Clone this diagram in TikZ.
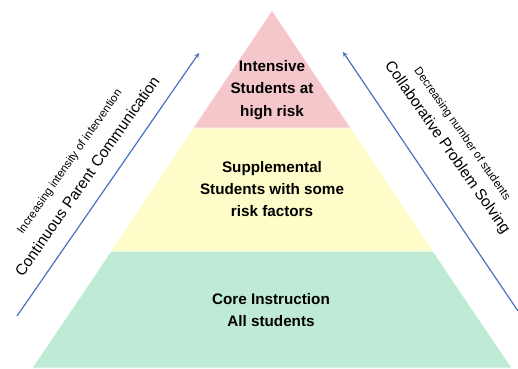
\documentclass[tikz,border=0pt]{standalone}
\usepackage{fontspec}
\setmainfont{Liberation Sans}
\tikzset{>=stealth}
\definecolor{tiertop}{RGB}{245,199,203}
\definecolor{tiermid}{RGB}{254,252,200}
\definecolor{tierlow}{RGB}{191,234,213}
\definecolor{arrowblue}{RGB}{70,114,196}
\tikzset{
    tier/.style={draw=white, line width=0.8pt},
    tierlabel/.style={align=center, font=\bfseries\fontsize{15.3}{22.5}\selectfont},
    sidebig/.style={inner sep=1pt, font=\fontsize{15.5}{18}\selectfont},
    sidesmall/.style={inner sep=1pt, font=\fontsize{11.5}{14}\selectfont},
    sidearrow/.style={->, arrowblue, line width=1.2pt}
}
\begin{document}
\begin{tikzpicture}[x=1bp, y=-1bp]
    \useasboundingbox (0,0) rectangle (518,368);
    % pyramid corners
    \coordinate (apex) at (272,10);
    \coordinate (tl) at (193,128);
    \coordinate (tr) at (351,128);
    \coordinate (ml) at (111,251);
    \coordinate (mr) at (433,251);
    \coordinate (bl) at (32,368);
    \coordinate (br) at (512,368);
    \fill [tierlow, tier] (ml) -- (mr) -- (br) -- (bl) -- cycle;
    \fill [tiermid, tier] (tl) -- (tr) -- (mr) -- (ml) -- cycle;
    \fill [tiertop, tier] (apex) -- (tr) -- (tl) -- cycle;
    \node (intensive) at (272,90) [tierlabel] {Intensive\\Students at\\high risk};
    \node (supplemental) at (272,189) [tierlabel] {Supplemental\\Students with some\\risk factors};
    \node (core) at (271,310) [tierlabel] {Core Instruction\\All students};
    % side arrows
    \coordinate (lstart) at (17,316);
    \coordinate (lend) at (199,53);
    \coordinate (rstart) at (518,311);
    \coordinate (rend) at (343,52);
    \draw [sidearrow] (lstart) -- (lend);
    \draw [sidearrow] (rstart) -- (rend);
    \node (parent) at (87,176) [sidebig, rotate=55] {Continuous Parent Communication};
    \node (intensity) at (70,162) [sidesmall, rotate=55] {Increasing intensity of intervention};
    \node (problem) at (447,148) [sidebig, rotate=-55] {Collaborative Problem Solving};
    \node (decrease) at (462,134) [sidesmall, rotate=-55] {Decreasing number of students};
\end{tikzpicture}
\end{document}
